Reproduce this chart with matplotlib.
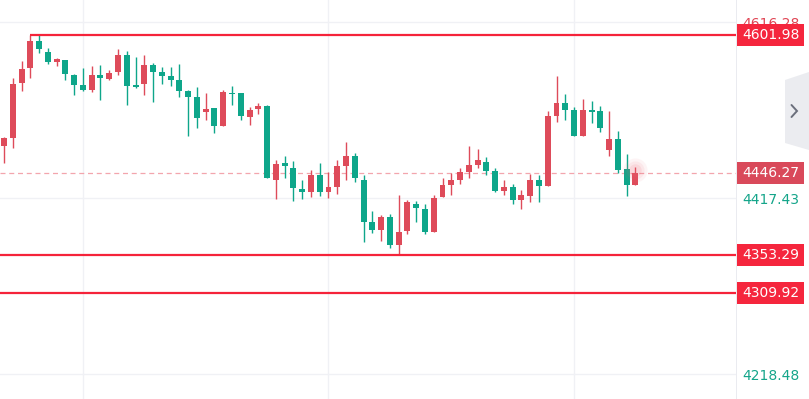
import matplotlib
matplotlib.use("Agg")
import matplotlib.pyplot as plt
from matplotlib.patches import Rectangle, Polygon
from matplotlib.transforms import offset_copy
import numpy as np

opens = [4476.5, 4485.2, 4547.4, 4564.3, 4595.2, 4583.1, 4571.8, 4573.7, 4556.7, 4545.4,
         4539.8, 4556.7, 4552.2, 4560.5, 4579.3, 4545.4, 4546.2, 4568.4, 4559.8, 4555.6,
         4551.1, 4538.7, 4531.5, 4514.6, 4519.1, 4499.1, 4536.1, 4536.1, 4509.0, 4518.0,
         4521.7, 4438.1, 4456.9, 4452.0, 4427.9, 4424.2, 4443.7, 4424.2, 4430.5, 4453.9,
         4465.2, 4438.1, 4390.3, 4381.6, 4396.0, 4364.6, 4380.8, 4411.0, 4405.3, 4379.0,
         4418.6, 4432.5, 4438.1, 4446.8, 4455.1, 4458.8, 4448.3, 4426.0, 4429.9, 4415.5,
         4420.4, 4438.1, 4431.3, 4510.4, 4524.8, 4517.2, 4487.8, 4517.2, 4516.1, 4472.0,
         4484.4, 4450.5, 4432.5]
highs = [4487.0, 4552.8, 4572.6, 4601.98, 4601.98, 4586.9, 4575.6, 4573.7, 4557.5, 4564.3,
         4567.3, 4568.0, 4562.4, 4586.1, 4583.9, 4576.8, 4579.3, 4569.9, 4565.5, 4565.5,
         4569.2, 4539.8, 4542.9, 4536.1, 4519.1, 4539.8, 4544.3, 4536.1, 4520.9, 4524.8,
         4522.9, 4460.7, 4465.2, 4459.6, 4438.1, 4449.4, 4457.7, 4446.8, 4460.7, 4480.7,
         4469.0, 4443.7, 4403.1, 4398.5, 4399.7, 4421.2, 4415.5, 4414.4, 4411.0, 4421.2,
         4440.7, 4446.3, 4451.3, 4476.5, 4473.1, 4463.7, 4451.3, 4438.1, 4433.6, 4426.8,
         4444.5, 4443.7, 4516.4, 4556.0, 4534.9, 4520.9, 4529.6, 4527.4, 4521.7, 4516.1,
         4493.5, 4467.5, 4453.1]
lows = [4457.3, 4473.9, 4539.0, 4553.0, 4581.3, 4568.8, 4567.3, 4551.1, 4534.1, 4538.7,
        4537.9, 4528.5, 4551.1, 4556.7, 4522.8, 4541.7, 4534.1, 4525.9, 4546.2, 4544.7,
        4532.2, 4488.2, 4496.5, 4505.9, 4490.9, 4499.1, 4522.8, 4505.9, 4500.2, 4512.7,
        4440.0, 4417.2, 4440.0, 4414.7, 4416.3, 4418.6, 4420.4, 4417.4, 4422.3, 4438.1,
        4435.5, 4368.4, 4377.9, 4369.5, 4360.9, 4353.29, 4376.7, 4390.3, 4376.7, 4379.0,
        4418.6, 4421.2, 4433.2, 4440.7, 4452.0, 4443.7, 4424.2, 4421.2, 4411.0, 4404.8,
        4413.2, 4413.8, 4431.3, 4504.0, 4505.9, 4487.8, 4487.8, 4502.2, 4492.0, 4465.2,
        4445.7, 4420.0, 4432.5]
closes = [4485.6, 4547.1, 4563.9, 4595.2, 4585.8, 4571.8, 4574.5, 4557.5, 4545.4, 4539.8,
          4556.7, 4553.0, 4559.3, 4579.3, 4544.3, 4543.5, 4568.0, 4560.1, 4556.0, 4551.4,
          4538.7, 4532.2, 4507.8, 4518.3, 4499.5, 4537.2, 4535.0, 4510.4, 4517.2, 4521.7,
          4440.0, 4456.7, 4454.3, 4428.7, 4424.5, 4443.7, 4424.2, 4429.9, 4453.9, 4465.2,
          4440.0, 4390.3, 4381.6, 4396.0, 4364.6, 4379.0, 4412.9, 4406.1, 4379.0, 4418.1,
          4432.5, 4438.1, 4446.8, 4455.1, 4460.7, 4448.3, 4425.7, 4429.9, 4415.5, 4421.2,
          4438.1, 4431.3, 4510.4, 4524.8, 4517.2, 4487.8, 4517.2, 4514.6, 4496.5, 4484.4,
          4449.4, 4432.5, 4446.27]

axis_ticks = [4616.28, 4417.43, 4218.48]
axis_tick_labels = ["4616.28", "4417.43", "4218.48"]
axis_tick_colors = ["#e04453", "#14a58a", "#14a58a"]
level_resist = 4601.98
level_supports = [4353.29, 4309.92]
last_price = 4446.27
resist_start = 3
vgrid_idx = [9, 37, 65]

UP = "#de4b5a"
DOWN = "#0ea68a"
LINE_RED = "#f5233a"
GRID = "#f0f1f5"

W, H = 809, 399
fig = plt.figure(figsize=(W / 100, H / 100), dpi=100)
fig.patch.set_facecolor("white")

ppx = 1.1298  # price per pixel
ytop = 4641.47
ybot = ytop - ppx * H
x0 = -4 / 8.77
x1 = x0 + 736 / 8.77

ax = fig.add_axes([0, 0, 736 / W, 1])
ax.set_xlim(x0, x1)
ax.set_ylim(ybot, ytop)
ax.axis("off")

# grid
for g in vgrid_idx:
    ax.axvline(g, color=GRID, lw=1.0, zorder=0)
for t in axis_ticks:
    ax.axhline(t, color=GRID, lw=1.0, zorder=0)

o = np.array(opens); h = np.array(highs); l = np.array(lows); c = np.array(closes)
x = np.arange(len(o))
up = c >= o
cols = np.where(up, UP, DOWN)
ax.vlines(x, l, h, colors=cols, lw=1.0, zorder=2)
bottom = np.minimum(o, c)
height = np.maximum(np.abs(c - o), ppx * 1.2)
ax.bar(x, height, bottom=bottom, width=0.68, color=cols, linewidth=0, zorder=3)

# glow on last candle
for s, a in [(300, 0.07), (170, 0.09), (80, 0.12)]:
    ax.scatter([x[-1]], [c[-1] + 3], s=s, color="#f06a7a", alpha=a, linewidths=0, zorder=4)

# level lines
ax.hlines(level_resist, resist_start, x1, color=LINE_RED, lw=1.6, zorder=5)
for lv in level_supports:
    ax.hlines(lv, x0, x1, color=LINE_RED, lw=1.6, zorder=5)
ax.axhline(last_price, color="#f3a5ad", lw=0.9, ls=(0, (4, 3)), zorder=1)

# right price panel
ax2 = fig.add_axes([736 / W, 0, 73 / W, 1])
ax2.set_xlim(0, 73)
ax2.set_ylim(ybot, ytop)
ax2.axis("off")
ax2.axvline(0.4, color="#e6e8ee", lw=1.2)

tick_tr = offset_copy(ax2.transData, fig=fig, x=0, y=-1.5, units="dots")
for t, lab, col in zip(axis_ticks, axis_tick_labels, axis_tick_colors):
    ax2.text(6, t, lab, color=col, fontsize=10, va="center", ha="left",
             family="DejaVu Sans", zorder=2, transform=tick_tr)

bh = 22 * ppx
def label(val, bg):
    ax2.add_patch(Rectangle((0.8, val - bh / 2), 67.5, bh, facecolor=bg,
                            edgecolor="none", zorder=5))
    ax2.text(6, val, f"{val:.2f}", color="white", fontsize=10, va="center",
             ha="left", family="DejaVu Sans", zorder=6)

label(level_resist, "#f5263d")
label(last_price, "#d9495a")
for lv in level_supports:
    label(lv, "#f5263d")

# collapse button
def fy(py):
    return 1 - py / H
btn = Polygon([(49 / 73, fy(80)), (1.0, fy(72)), (1.0, fy(150)), (49 / 73, fy(143))],
              closed=True, transform=ax2.transAxes, facecolor="#ebecf0",
              edgecolor="none", zorder=3)
ax2.add_patch(btn)
ax2.plot([55.5 / 73, 61 / 73, 55.5 / 73], [fy(105), fy(111), fy(117)],
         transform=ax2.transAxes, color="#6b6f7c", lw=1.4, zorder=4,
         solid_capstyle="round", solid_joinstyle="miter")

fig.savefig("out.png", dpi=100, facecolor="white")
